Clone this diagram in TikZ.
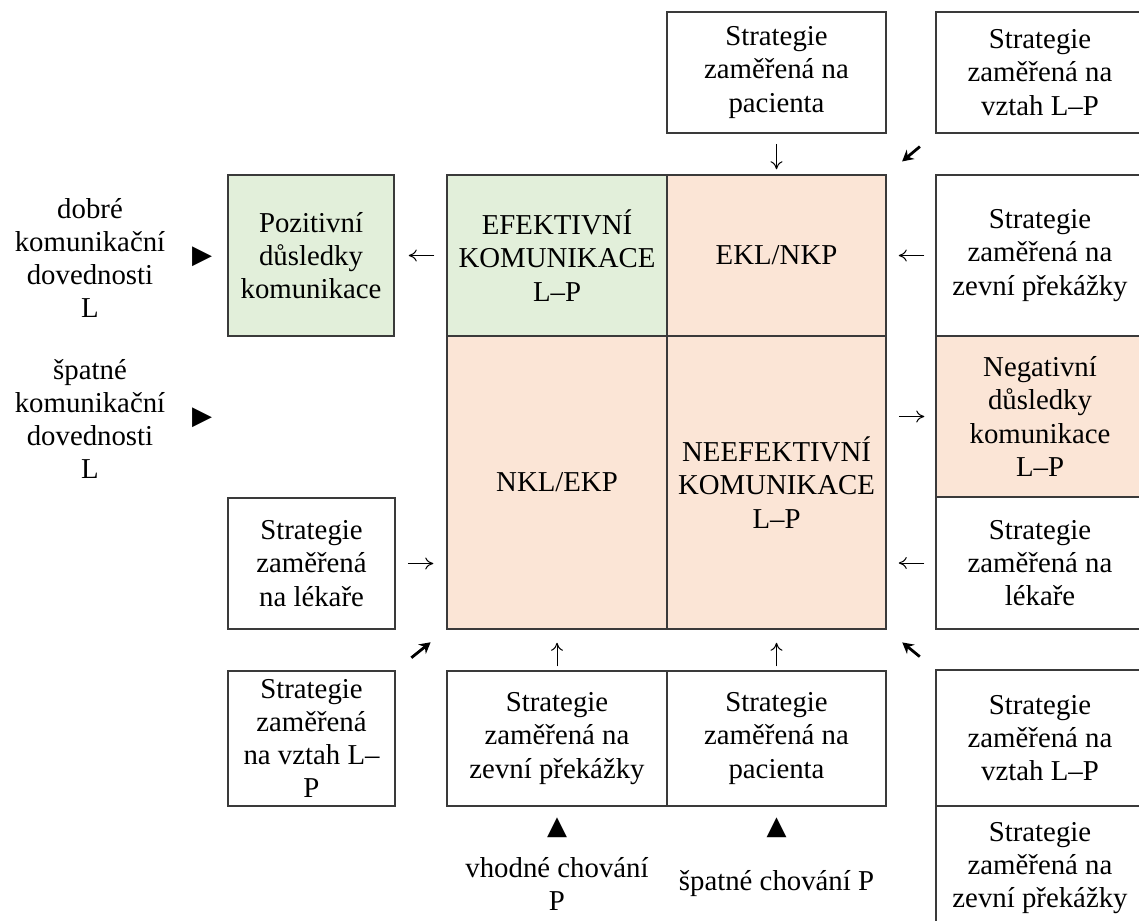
\documentclass[tikz,border=0pt]{standalone}
\usepackage{fontspec}
\setmainfont{Liberation Serif}
\newfontfamily\symfont{DejaVu Sans}
\usepackage{tikz}
\usetikzlibrary{arrows.meta, positioning, calc}
\definecolor{goodgreen}{HTML}{E2EFDA}
\definecolor{badpeach}{HTML}{FBE5D6}
\definecolor{edgegray}{HTML}{3A3A3A}

\tikzset{
  cellbox/.style={draw=edgegray, line width=0.75pt, align=center, inner sep=0pt,
    font=\fontsize{14.4}{16.6}\selectfont},
  plainbox/.style={cellbox, fill=white},
  greenbox/.style={cellbox, fill=goodgreen},
  peachbox/.style={cellbox, fill=badpeach},
  sidetext/.style={align=center, inner sep=0pt, font=\fontsize{14.4}{16.6}\selectfont},
  marktri/.style={inner sep=0pt, font=\symfont\fontsize{13}{13}\selectfont},
  thinarr/.style={-{To[length=4pt,width=6pt]}, line width=0.5pt},
  boldarr/.style={-{Stealth[length=5.5pt,width=6pt]}, line width=1.4pt}
}

\begin{document}
\begin{tikzpicture}[x=0.5pt, y=-0.5pt]
    \useasboundingbox (0,0) rectangle (1139,920);
    \clip (0,0) rectangle (1139,920);

    % central grid
    \node[greenbox, minimum width=110pt, minimum height=80.5pt] (eff) at (557,255.5) {EFEKTIVNÍ\\KOMUNIKACE\\L–P};
    \node[peachbox, minimum width=109.5pt, minimum height=80.5pt] (ekl) at (776.5,255.5) {EKL/NKP};
    \node[peachbox, minimum width=110pt, minimum height=146.5pt] (nkl) at (557,482.5) {NKL/EKP};
    \node[peachbox, minimum width=109.5pt, minimum height=146.5pt] (neef) at (776.5,482.5) {NEEFEKTIVNÍ\\KOMUNIKACE\\L–P};

    % top row
    \node[plainbox, minimum width=109.5pt, minimum height=60.5pt] (tpac) at (776.5,72.5) {Strategie\\zaměřená na\\pacienta};
    \node[plainbox, minimum width=104pt, minimum height=60.5pt] (rvzt1) at (1040,72.5) {Strategie\\zaměřená na\\vztah L–P};

    % left column
    \node[greenbox, minimum width=83pt, minimum height=80.5pt] (poz) at (311,255.5) {Pozitivní\\důsledky\\komunikace};
    \node[plainbox, minimum width=83.5pt, minimum height=65.5pt] (llek) at (311.5,563.5) {Strategie\\zaměřená\\na lékaře};
    \node[plainbox, minimum width=83.5pt, minimum height=67.5pt] (lvzt) at (311.5,738.5) {Strategie\\zaměřená\\na vztah L–\\P};

    % right column
    \node[plainbox, minimum width=104pt, minimum height=80.5pt] (rzev1) at (1040,255.5) {Strategie\\zaměřená na\\zevní překážky};
    \node[peachbox, minimum width=104pt, minimum height=80.5pt] (rneg) at (1040,416.5) {Negativní\\důsledky\\komunikace\\L–P};
    \node[plainbox, minimum width=104pt, minimum height=66pt] (rlek) at (1040,563) {Strategie\\zaměřená na\\lékaře};
    \node[plainbox, minimum width=104pt, minimum height=68pt] (rvzt2) at (1040,738) {Strategie\\zaměřená na\\vztah L–P};
    \node[plainbox, minimum width=104pt, minimum height=62pt] (rzev2) at (1040,868) {Strategie\\zaměřená na\\zevní překážky};

    % bottom row
    \node[plainbox, minimum width=110pt, minimum height=67.5pt] (bzev) at (557,738.5) {Strategie\\zaměřená na\\zevní překážky};
    \node[plainbox, minimum width=109.5pt, minimum height=67.5pt] (bpac) at (776.5,738.5) {Strategie\\zaměřená na\\pacienta};

    % behaviour of doctor and patient
    \node[sidetext] (dobre) at (90,258) {dobré\\komunikační\\dovednosti\\L};
    \node[sidetext] (spatne) at (90,419) {špatné\\komunikační\\dovednosti\\L};
    \node[marktri] (tridobre) at (202,257) {▶};
    \node[marktri] (trispatne) at (202,418) {▶};
    \node[marktri] (trivhod) at (557,828) {▲};
    \node[marktri] (trispat) at (776.5,828) {▲};
    \node[sidetext] (vhodne) at (557,884) {vhodné chování\\P};
    \node[sidetext] (spatnechov) at (776.5,884) {špatné chování P};

    % straight arrows
    \draw[thinarr, shorten <=6pt, shorten >=7pt] (eff.west) -- (poz.east);
    \draw[thinarr, shorten <=5.5pt, shorten >=6pt] (rzev1.west) -- (ekl.east);
    \draw[thinarr, shorten <=5pt, shorten >=2.5pt] (tpac.south) -- (ekl.north);
    \draw[thinarr, shorten <=6pt, shorten >=6.5pt] (llek.east) -- (llek.east -| nkl.west);
    \draw[thinarr, shorten <=5.5pt, shorten >=6pt] (rlek.west) -- (rlek.west -| neef.east);
    \draw[thinarr, shorten <=6pt, shorten >=5.5pt] (neef.east |- rneg.west) -- (rneg.west);
    \draw[thinarr, shorten <=2pt, shorten >=6.5pt] (bzev.north) -- (nkl.south);
    \draw[thinarr, shorten <=2pt, shorten >=6.5pt] (bpac.north) -- (neef.south);

    % diagonal arrows
    \draw[boldarr, shorten <=10pt, shorten >=10pt] (rvzt1.south west) -- (ekl.north east);
    \draw[boldarr, shorten <=10pt, shorten >=10pt] (lvzt.north east) -- (nkl.south west);
    \draw[boldarr, shorten <=10pt, shorten >=10pt] (rvzt2.north west) -- (neef.south east);
\end{tikzpicture}
\end{document}
